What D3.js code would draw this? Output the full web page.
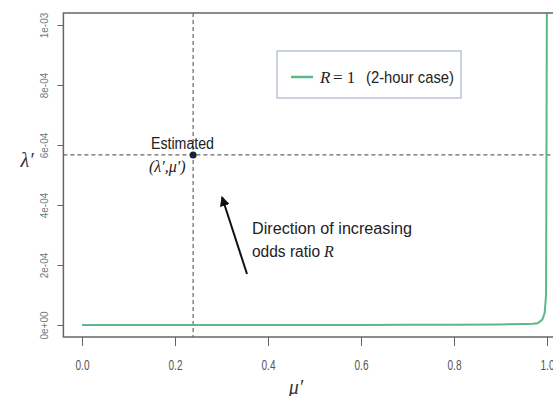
<!DOCTYPE html>
<html>
<head>
<meta charset="utf-8">
<script src="https://cdn.jsdelivr.net/npm/d3@7"></script>
<style>
  body { margin: 0; background: #fff; }
  svg { display: block; }
</style>
</head>
<body>
<div id="chart"></div>
<script>
// curve for R = 1 (2-hour case)
const uVals = [0, 0.1, 0.2, 0.3, 0.4, 0.5, 0.6, 0.7, 0.8, 0.9, 0.95, 0.97, 0.98, 0.99, 0.995, 0.998, 1.0];
const lamVals = [0, 0, 0, 0, 0, 0, 0, 0.0000005, 0.000001, 0.000002, 0.000003, 0.000004, 0.000006, 0.000018, 0.00004, 0.0001, 0.0012];

const xTicks = [0, 0.2, 0.4, 0.6, 0.8, 1.0];
const yTicks = [0, 0.0002, 0.0004, 0.0006, 0.0008, 0.001];
const yTickLabels = ['0e+00', '2e-04', '4e-04', '6e-04', '8e-04', '1e-03'];

const estU = 0.239;
const estLam = 0.000567;

const width = 553, height = 396;

const x = d3.scaleLinear().domain([0, 1]).range([82, 547]);
const y = d3.scaleLinear().domain([0, 0.001]).range([325, 25]);

const narrow = '"Liberation Sans Narrow", "Arial Narrow", "Liberation Sans", sans-serif';
const serif = '"Liberation Serif", "Times New Roman", serif';

const svg = d3.select('#chart').append('svg')
    .attr('width', width)
    .attr('height', height);

// squeeze text to the width seen in the picture (no narrow font here)
function squeeze(sel, w) {
    sel.attr('textLength', w).attr('lengthAdjust', 'spacingAndGlyphs');
}

// plot box (R style 4% padding)
const bx0 = x(-0.04), bx1 = x(1.04), by0 = y(1.04e-3), by1 = y(-0.04e-3);

svg.append('defs').append('clipPath').attr('id', 'plotclip')
    .append('rect')
    .attr('x', bx0).attr('y', by0)
    .attr('width', bx1 - bx0).attr('height', by1 - by0);

// dashed reference lines
svg.append('line')
    .attr('x1', x(estU)).attr('x2', x(estU))
    .attr('y1', by0).attr('y2', by1)
    .attr('stroke', '#666').attr('stroke-width', 1.2)
    .attr('stroke-dasharray', '4,3');
svg.append('line')
    .attr('x1', bx0).attr('x2', bx1)
    .attr('y1', y(estLam)).attr('y2', y(estLam))
    .attr('stroke', '#666').attr('stroke-width', 1.2)
    .attr('stroke-dasharray', '4,3');

// curve
let line = d3.line()
    .x((d, i) => x(uVals[i]))
    .y((d, i) => y(lamVals[i]));

svg.append('path')
    .attr('d', line(uVals))
    .attr('fill', 'none')
    .attr('stroke', '#5cb88a')
    .attr('stroke-width', 2)
    .attr('clip-path', 'url(#plotclip)');

// box
svg.append('rect')
    .attr('x', bx0).attr('y', by0)
    .attr('width', bx1 - bx0).attr('height', by1 - by0)
    .attr('fill', 'none')
    .attr('stroke', '#666')
    .attr('stroke-width', 1.5);

// x axis
let xAxis = d3.axisBottom(x)
    .tickValues(xTicks)
    .tickFormat(d3.format('.1f'))
    .tickSize(9)
    .tickSizeOuter(0);
let gx = svg.append('g')
    .attr('transform', `translate(0,${by1})`)
    .call(xAxis);
gx.select('.domain').remove();
gx.selectAll('.tick line').attr('stroke', '#666');
gx.selectAll('.tick text')
    .attr('y', 23)
    .attr('fill', '#555')
    .style('font-family', narrow)
    .style('font-size', '14px')
    .call(squeeze, 14);

// y axis
let yAxis = d3.axisLeft(y)
    .tickValues(yTicks)
    .tickFormat((d, i) => yTickLabels[i])
    .tickSize(6)
    .tickSizeOuter(0);
let gy = svg.append('g')
    .attr('transform', `translate(${bx0},0)`)
    .call(yAxis);
gy.select('.domain').remove();
gy.selectAll('.tick line').attr('stroke', '#666');
gy.selectAll('.tick text')
    .attr('x', 0).attr('dy', 0)
    .attr('transform', 'translate(-18,0) rotate(-90)')
    .attr('text-anchor', 'middle')
    .attr('dominant-baseline', 'middle')
    .attr('fill', '#6a7a8a')
    .style('font-family', '"Liberation Sans", Arial, sans-serif')
    .style('font-size', '10px');

// axis titles
svg.append('text')
    .attr('x', 27).attr('y', 167)
    .attr('text-anchor', 'middle')
    .style('font-family', serif)
    .style('font-style', 'italic')
    .style('font-size', '20px')
    .attr('fill', '#333')
    .text('λ′');
svg.append('text')
    .attr('x', 296).attr('y', 394)
    .attr('text-anchor', 'middle')
    .style('font-family', serif)
    .style('font-style', 'italic')
    .style('font-size', '20px')
    .attr('fill', '#333')
    .text('μ′');

// estimate point
svg.append('circle')
    .attr('cx', x(estU)).attr('cy', y(estLam))
    .attr('r', 3.5)
    .attr('fill', '#1b1f3f');

svg.append('text')
    .attr('x', 151).attr('y', 149)
    .style('font-family', narrow)
    .style('font-size', '16px')
    .attr('fill', '#222')
    .text('Estimated')
    .call(squeeze, 63);
svg.append('text')
    .attr('x', 149).attr('y', 172)
    .style('font-family', serif)
    .style('font-style', 'italic')
    .style('font-size', '16px')
    .attr('fill', '#222')
    .text('(λ′,μ′)');

// arrow
svg.append('defs').append('marker')
    .attr('id', 'head')
    .attr('viewBox', '0 0 10 10')
    .attr('refX', 9).attr('refY', 5)
    .attr('markerWidth', 5).attr('markerHeight', 5)
    .attr('orient', 'auto')
    .append('path')
    .attr('d', 'M0,0 L10,5 L0,10 z')
    .attr('fill', '#111');
svg.append('line')
    .attr('x1', 247).attr('y1', 274)
    .attr('x2', 222).attr('y2', 197)
    .attr('stroke', '#111')
    .attr('stroke-width', 2)
    .attr('marker-end', 'url(#head)');

svg.append('text')
    .attr('x', 252).attr('y', 234)
    .style('font-family', narrow)
    .style('font-size', '16px')
    .attr('fill', '#222')
    .text('Direction of increasing')
    .call(squeeze, 160);
let odds = svg.append('text')
    .attr('x', 252).attr('y', 257)
    .style('font-family', narrow)
    .style('font-size', '16px')
    .attr('fill', '#222')
    .text('odds ratio')
    .call(squeeze, 68);
svg.append('text')
    .attr('x', 252 + 68 + 4).attr('y', 257)
    .style('font-family', serif)
    .style('font-style', 'italic')
    .style('font-size', '16px')
    .attr('fill', '#222')
    .text('R');

// legend
svg.append('rect')
    .attr('x', 277).attr('y', 51)
    .attr('width', 184).attr('height', 47)
    .attr('fill', '#fff')
    .attr('stroke', '#a8b8c8')
    .attr('stroke-width', 1.2);
svg.append('line')
    .attr('x1', 291).attr('x2', 313)
    .attr('y1', 77).attr('y2', 77)
    .attr('stroke', '#5cb88a')
    .attr('stroke-width', 2.5);
svg.append('text')
    .attr('x', 320).attr('y', 83)
    .style('font-family', serif)
    .style('font-style', 'italic')
    .style('font-size', '17px')
    .attr('fill', '#222')
    .text('R');
svg.append('text')
    .attr('x', 333).attr('y', 83)
    .style('font-family', serif)
    .style('font-size', '17px')
    .attr('fill', '#222')
    .text('= 1');
svg.append('text')
    .attr('x', 366).attr('y', 83)
    .style('font-family', narrow)
    .style('font-size', '17px')
    .attr('fill', '#222')
    .text('(2-hour case)')
    .call(squeeze, 88);
</script>
</body>
</html>
